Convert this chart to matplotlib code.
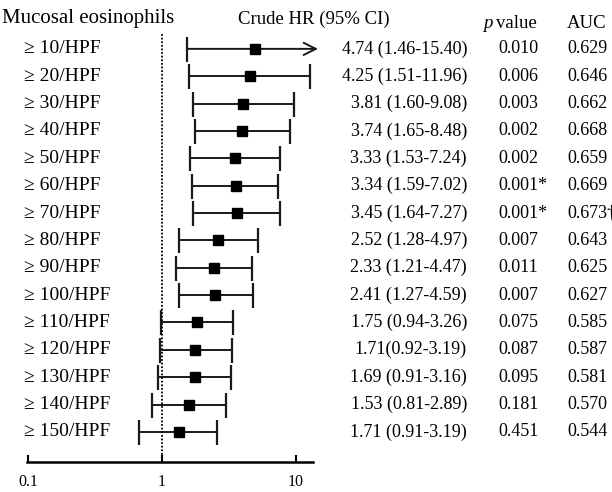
import numpy as np
import matplotlib.pyplot as plt
from matplotlib.transforms import blended_transform_factory

plt.rcParams['font.family'] = ['Liberation Serif', 'DejaVu Serif']

labels = ["≥ 10/HPF", "≥ 20/HPF", "≥ 30/HPF", "≥ 40/HPF", "≥ 50/HPF",
          "≥ 60/HPF", "≥ 70/HPF", "≥ 80/HPF", "≥ 90/HPF", "≥ 100/HPF",
          "≥ 110/HPF", "≥ 120/HPF", "≥ 130/HPF", "≥ 140/HPF", "≥ 150/HPF"]

# hazard ratios as drawn on the plot
hr = [4.99, 4.55, 4.02, 3.97, 3.48, 3.54, 3.62, 2.62, 2.43, 2.50,
      1.84, 1.78, 1.78, 1.59, 1.34]
ci_lo = [1.55, 1.60, 1.71, 1.76, 1.61, 1.68, 1.71, 1.35, 1.28, 1.34,
         0.98, 0.97, 0.94, 0.85, 0.68]
ci_hi = [None, 12.7, 9.6, 9.02, 7.6, 7.3, 7.6, 5.25, 4.71, 4.82,
         3.39, 3.33, 3.25, 3.02, 2.59]

hr_text = ["4.74 (1.46-15.40)", "4.25 (1.51-11.96)", "3.81 (1.60-9.08)",
           "3.74 (1.65-8.48)", "3.33 (1.53-7.24)", "3.34 (1.59-7.02)",
           "3.45 (1.64-7.27)", "2.52 (1.28-4.97)", "2.33 (1.21-4.47)",
           "2.41 (1.27-4.59)", "1.75 (0.94-3.26)", "1.71(0.92-3.19)",
           "1.69 (0.91-3.16)", "1.53 (0.81-2.89)", "1.71 (0.91-3.19)"]
p_text = ["0.010", "0.006", "0.003", "0.002", "0.002", "0.001*", "0.001*",
          "0.007", "0.011", "0.007", "0.075", "0.087", "0.095", "0.181", "0.451"]
auc_text = ["0.629", "0.646", "0.662", "0.668", "0.659", "0.669", "0.673†",
            "0.643", "0.625", "0.627", "0.585", "0.587", "0.581", "0.570", "0.544"]

W, H = 612, 492
fig = plt.figure(figsize=(W / 100, H / 100), dpi=100)
ax = fig.add_axes([27 / W, 1 - 462 / H, (313 - 27) / W, (462 - 33) / H])

n = len(labels)
y = np.arange(n)
ax.set_xscale('log')
ax.set_xlim(0.0985, 13.4)
ax.set_ylim(15.1, -0.58)

col = '#1a1a1a'
for i in range(n):
    if ci_hi[i] is None:
        ax.annotate("", xy=(14.6, y[i]), xytext=(ci_lo[i], y[i]),
                    arrowprops=dict(arrowstyle='->', lw=1.4, color=col,
                                    mutation_scale=22, shrinkA=0, shrinkB=0),
                    annotation_clip=False)
        ax.plot([ci_lo[i]], [y[i]], marker='|', ms=18, mew=1.6, color=col)
    else:
        ax.errorbar(hr[i], y[i], xerr=[[hr[i] - ci_lo[i]], [ci_hi[i] - hr[i]]],
                    fmt='none', ecolor=col, elinewidth=1.4, capsize=9, capthick=1.6)
    ax.plot(hr[i], y[i], marker='s', ms=7, color='black', zorder=5, clip_on=False)

ax.axvline(1, color='black', ls=(0, (1, 1)), lw=1.3)

for s in ['top', 'right', 'left']:
    ax.spines[s].set_visible(False)
ax.spines['bottom'].set_linewidth(1.8)
ax.set_yticks([])
ax.set_xticks([0.1, 1, 10])
ax.set_xticklabels(["0.1", "1", "10"])
ax.minorticks_off()
ax.tick_params(axis='x', direction='in', length=5, width=1.5, labelsize=11.5, pad=9)

tr = blended_transform_factory(fig.transFigure, ax.transData)
fs = 13
for i in range(n):
    ax.text(24 / W, y[i], labels[i], transform=tr, ha='left', va='center', fontsize=14)
    ax.text(467 / W, y[i], hr_text[i], transform=tr, ha='right', va='center', fontsize=fs)
    ax.text(498 / W, y[i], p_text[i], transform=tr, ha='left', va='center', fontsize=fs)
    ax.text(567 / W, y[i], auc_text[i], transform=tr, ha='left', va='center', fontsize=fs)

fig.text(2 / W, 1 - 19 / H, "Mucosal eosinophils", ha='left', va='center', fontsize=15)
fig.text(238 / W, 1 - 19 / H, "Crude HR (95% CI)", ha='left', va='center', fontsize=13.5)
fig.text(483 / W, 1 - 23 / H, "p", ha='left', va='center', fontsize=13.5, style='italic')
fig.text(496 / W, 1 - 23 / H, "value", ha='left', va='center', fontsize=13.5)
fig.text(567 / W, 1 - 23 / H, "AUC", ha='left', va='center', fontsize=13.5)

fig.savefig("out.png", dpi=100)
